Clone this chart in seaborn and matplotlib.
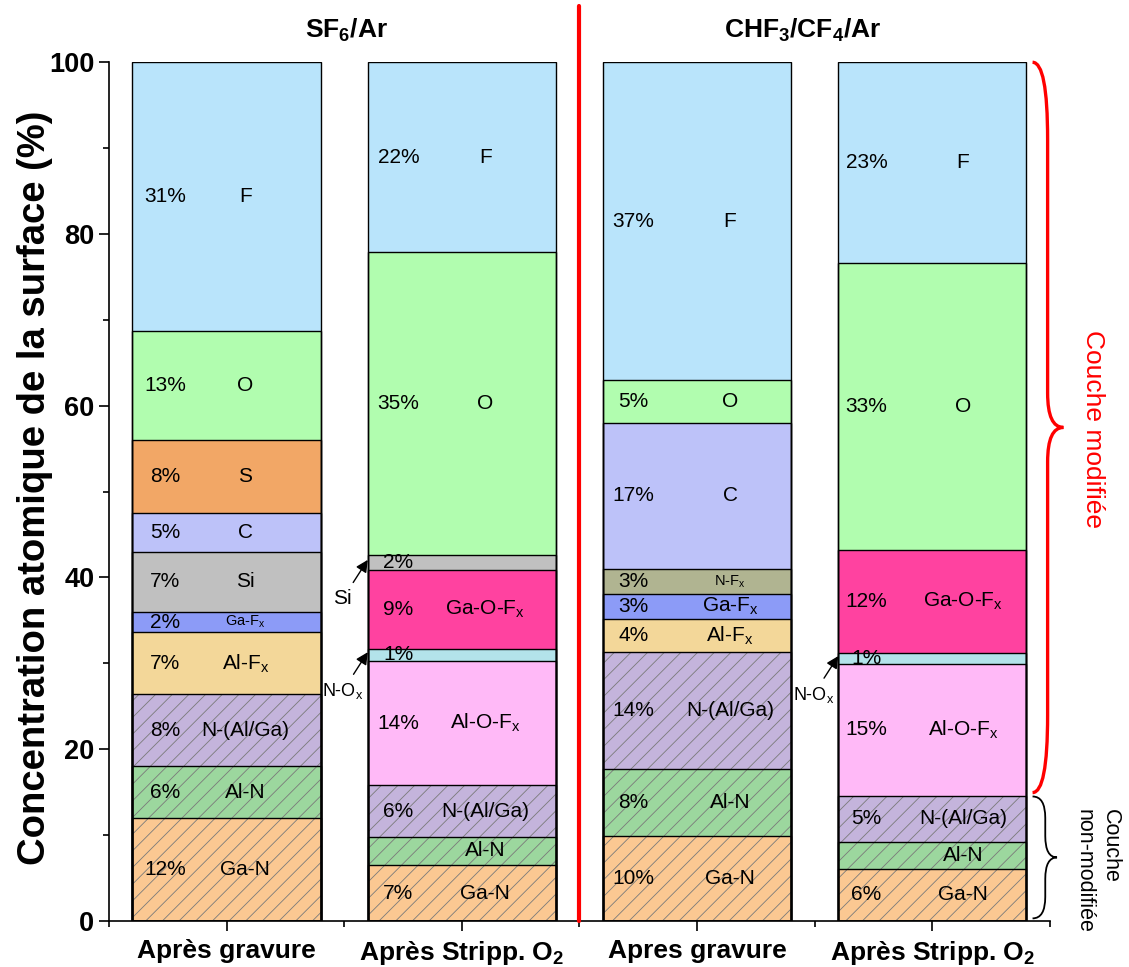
import numpy as np
import pandas as pd
import matplotlib
matplotlib.use("Agg")
import matplotlib.pyplot as plt
from matplotlib.path import Path
from matplotlib.patches import PathPatch
from matplotlib.ticker import FixedLocator
import seaborn as sns

# ---------------- data ----------------
bar_keys = ["SF6_gravure", "SF6_stripp", "CHF3_gravure", "CHF3_stripp"]
tick_labels = ["Après gravure", r"Après Stripp. O$_{\mathbf{2}}$",
               "Apres gravure", r"Après Stripp. O$_{\mathbf{2}}$"]
group_titles = [r"SF$_{\mathbf{6}}$/Ar", r"CHF$_{\mathbf{3}}$/CF$_{\mathbf{4}}$/Ar"]

# stacking order, bottom -> top
components = ["Ga-N", "Al-N", "N-(Al/Ga)", "Al-O-Fx", "N-Ox", "Ga-O-Fx",
              "Al-Fx", "Ga-Fx", "N-Fx", "Si", "C", "S", "O", "F"]

ga_n    = [12.0, 6.5, 9.9, 6.1]
al_n    = [6.0, 3.3, 7.8, 3.1]
n_alga  = [8.4, 6.0, 13.6, 5.4]
al_o_fx = [0.0, 14.5, 0.0, 15.3]
n_ox    = [0.0, 1.4, 0.0, 1.3]
ga_o_fx = [0.0, 9.2, 0.0, 12.0]
al_fx   = [7.2, 0.0, 3.9, 0.0]
ga_fx   = [2.4, 0.0, 2.9, 0.0]
n_fx    = [0.0, 0.0, 2.9, 0.0]
si      = [7.0, 1.7, 0.0, 0.0]
c       = [4.5, 0.0, 17.0, 0.0]
s       = [8.5, 0.0, 0.0, 0.0]
o       = [12.7, 35.3, 5.0, 33.4]
f       = [31.3, 22.1, 37.0, 23.4]

ga_n_pct    = ["12%", "7%", "10%", "6%"]
al_n_pct    = ["6%", "", "8%", ""]
n_alga_pct  = ["8%", "6%", "14%", "5%"]
al_o_fx_pct = ["", "14%", "", "15%"]
n_ox_pct    = ["", "1%", "", "1%"]
ga_o_fx_pct = ["", "9%", "", "12%"]
al_fx_pct   = ["7%", "", "4%", ""]
ga_fx_pct   = ["2%", "", "3%", ""]
n_fx_pct    = ["", "", "3%", ""]
si_pct      = ["7%", "2%", "", ""]
c_pct       = ["5%", "", "17%", ""]
s_pct       = ["8%", "", "", ""]
o_pct       = ["13%", "35%", "5%", "33%"]
f_pct       = ["31%", "22%", "37%", "23%"]

values = [ga_n, al_n, n_alga, al_o_fx, n_ox, ga_o_fx, al_fx, ga_fx, n_fx, si, c, s, o, f]
pcts = [ga_n_pct, al_n_pct, n_alga_pct, al_o_fx_pct, n_ox_pct, ga_o_fx_pct, al_fx_pct,
        ga_fx_pct, n_fx_pct, si_pct, c_pct, s_pct, o_pct, f_pct]

# ---------------- styles ----------------
colors = {
    "Ga-N": "#FBC892", "Al-N": "#9CD79E", "N-(Al/Ga)": "#C4B4DC",
    "Al-O-Fx": "#FFB9F7", "N-Ox": "#B3E3EA", "Ga-O-Fx": "#FF42A0",
    "Al-Fx": "#F3D799", "Ga-Fx": "#8C9BF7", "N-Fx": "#B0B491",
    "Si": "#C0C0C0", "C": "#BDC2F9", "S": "#F2A766", "O": "#B1FDAF", "F": "#B9E4FB",
}
hatched = {"Ga-N", "Al-N", "N-(Al/Ga)"}
display = {
    "Ga-N": "Ga-N", "Al-N": "Al-N", "N-(Al/Ga)": "N-(Al/Ga)",
    "Al-O-Fx": r"Al-O-F$_\mathrm{x}$", "N-Ox": r"N-O$_\mathrm{x}$",
    "Ga-O-Fx": r"Ga-O-F$_\mathrm{x}$", "Al-Fx": r"Al-F$_\mathrm{x}$",
    "Ga-Fx": r"Ga-F$_\mathrm{x}$", "N-Fx": r"N-F$_\mathrm{x}$",
    "Si": "Si", "C": "C", "S": "S", "O": "O", "F": "F",
}
small_names = {(0, "Ga-Fx"), (2, "N-Fx")}
pct_dx = [-0.26, -0.27, -0.27, -0.28]
name_dx = [0.08, 0.10, 0.14, 0.13]

# ---------------- table ----------------
rows = []
for ci, comp in enumerate(components):
    for bi, key in enumerate(bar_keys):
        rows.append(dict(bar=key, bar_idx=bi, component=comp, comp_idx=ci,
                         value=values[ci][bi], pct=pcts[ci][bi]))
df = pd.DataFrame(rows).sort_values(["bar_idx", "comp_idx"])
df["top"] = df.groupby("bar")["value"].cumsum()
df["mid"] = df["top"] - df["value"] / 2

sns.set_theme(style="ticks")
plt.rcParams["font.family"] = ["Liberation Sans", "DejaVu Sans"]
plt.rcParams["mathtext.fontset"] = "custom"
plt.rcParams["mathtext.rm"] = "Liberation Sans"
plt.rcParams["mathtext.it"] = "Liberation Sans:italic"
plt.rcParams["mathtext.bf"] = "Liberation Sans:bold"
plt.rcParams["hatch.linewidth"] = 0.6
for k in ["text.color", "axes.labelcolor", "xtick.color", "ytick.color", "axes.edgecolor"]:
    plt.rcParams[k] = "black"

fig = plt.figure(figsize=(11.29, 9.67), dpi=100)
ax = fig.add_axes([0.0965, 0.0476, 0.8335, 0.888])

# fills, drawn from top component downwards (cumulative heights)
for comp in reversed(components):
    sub = df[df["component"] == comp]
    kw = dict(linewidth=0)
    if comp in hatched:
        kw.update(hatch="//", edgecolor="#7a7a7a")
    sns.barplot(data=sub, x="bar", y="top", order=bar_keys, color=colors[comp],
                saturation=1, width=0.8, errorbar=None, ax=ax, **kw)
# outlines
for comp in components:
    sub = df[(df["component"] == comp) & (df["value"] > 0)]
    sns.barplot(data=sub, x="bar", y="top", order=bar_keys, fill=False, color="black",
                linewidth=1.0, width=0.8, errorbar=None, ax=ax)

# labels in segments
for _, r in df[df["value"] > 0].iterrows():
    bi = r["bar_idx"]
    if r["pct"]:
        ax.text(bi + pct_dx[bi], r["mid"], r["pct"], ha="center", va="center",
                fontsize=15, color="black")
    if r["value"] >= 1.9:
        fs = 10.5 if (bi, r["component"]) in small_names else 15
        ax.text(bi + name_dx[bi], r["mid"], display[r["component"]], ha="center",
                va="center", fontsize=fs, color="black")
    else:
        ax.annotate(display[r["component"]], xy=(bi - 0.4, r["mid"] + 0.3),
                    xytext=(-18, -28), textcoords="offset points",
                    ha="center", va="center", color="black",
                    fontsize=15 if r["component"] == "Si" else 13,
                    arrowprops=dict(arrowstyle="-|>", color="black", lw=1.0,
                                    shrinkA=3, shrinkB=0, mutation_scale=18),
                    annotation_clip=False)

# axes styling
ax.set_xlim(-0.5, 3.5)
ax.set_ylim(0, 100)
sns.despine(ax=ax)
for sp in ["left", "bottom"]:
    ax.spines[sp].set_linewidth(1.2)
    ax.spines[sp].set_color("black")
ax.set_xticks(range(len(bar_keys)))
ax.set_xticklabels(tick_labels, fontsize=19, fontweight="bold")
ax.xaxis.set_minor_locator(FixedLocator(np.arange(-0.5, 3.6, 1.0)))
ax.set_yticks(np.arange(0, 101, 20))
ax.set_yticklabels([str(v) for v in range(0, 101, 20)], fontsize=19.5, fontweight="bold")
ax.yaxis.set_minor_locator(FixedLocator(np.arange(10, 100, 20)))
ax.tick_params(axis="both", which="major", direction="out", length=7, width=1.2,
               color="black", labelcolor="black")
ax.tick_params(axis="both", which="minor", direction="out", length=4, width=1.2, color="black")
ax.tick_params(axis="x", which="major", pad=6)
ax.set_xlabel("")
ax.set_ylabel("Concentration atomique de la surface (%)", fontsize=27.5,
              fontweight="bold", color="black")
ax.yaxis.set_label_coords(-0.059, 0.505)
ax.grid(False)

# group titles & separator
ax.text(0.51, 103.7, group_titles[0], ha="center", va="center", fontsize=19,
        fontweight="bold", color="black")
ax.text(2.45, 103.7, group_titles[1], ha="center", va="center", fontsize=19,
        fontweight="bold", color="black")
ax.plot([1.5, 1.5], [0, 106.6], color="red", lw=3, clip_on=False, zorder=5)


def brace(x0, xm, x1, ybot, ytop, r_end, r_tip, color, lw):
    ymid = (ybot + ytop) / 2
    verts = [(x0, ytop), (xm, ytop), (xm, ytop - r_end),
             (xm, ymid + r_tip), (xm, ymid), (x1, ymid),
             (xm, ymid), (xm, ymid - r_tip),
             (xm, ybot + r_end), (xm, ybot), (x0, ybot)]
    codes = [Path.MOVETO, Path.CURVE3, Path.CURVE3, Path.LINETO, Path.CURVE3, Path.CURVE3,
             Path.CURVE3, Path.CURVE3, Path.LINETO, Path.CURVE3, Path.CURVE3]
    ax.add_patch(PathPatch(Path(verts, codes), facecolor="none", edgecolor=color,
                           lw=lw, clip_on=False))


last = df[df["bar_idx"] == 3].set_index("component")
base_top = last.loc["N-(Al/Ga)", "top"]
brace(3.426, 3.49, 3.557, base_top + 0.35, 100, 9, 4, "red", 2.4)
brace(3.426, 3.48, 3.53, 0.3, base_top - 0.1, 2.5, 2.5, "black", 1.3)
ax.text(3.685, (base_top + 100) / 2, "Couche modifiée", rotation=-90, color="red",
        ha="center", va="center", fontsize=19)
ax.text(3.70, 5.8, "Couche\nnon-modifiée", rotation=-90, color="black",
        ha="center", va="center", fontsize=15.5, multialignment="left", linespacing=1.35)

fig.savefig("out.png", dpi=100)
